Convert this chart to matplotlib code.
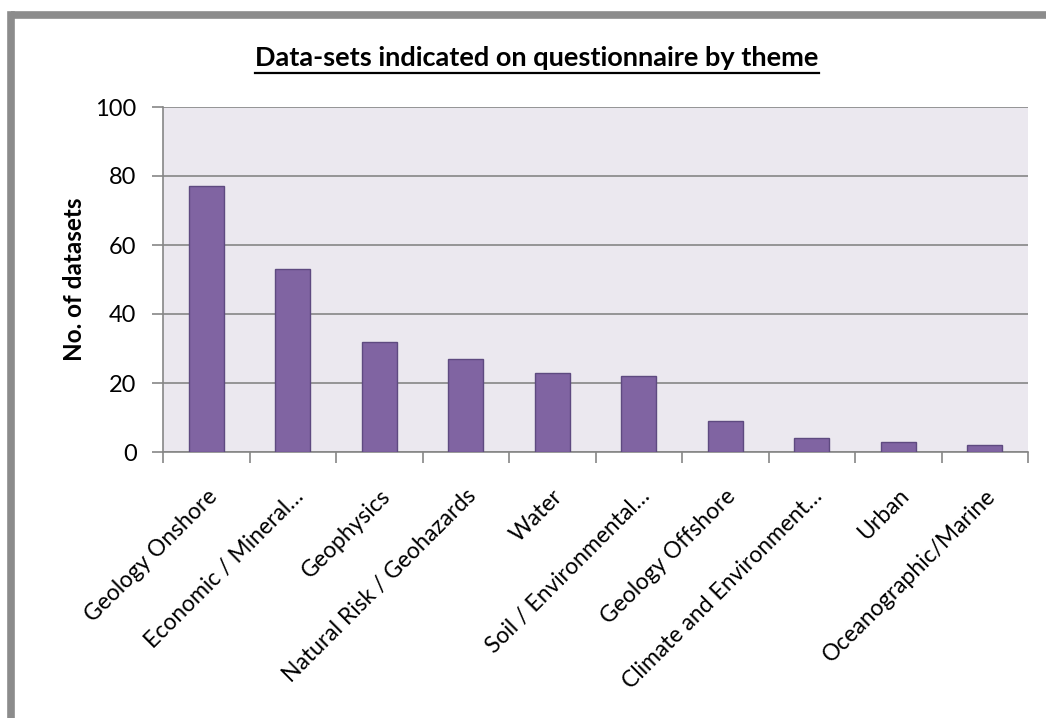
import matplotlib.pyplot as plt
from matplotlib.lines import Line2D
import numpy as np

categories = ["Geology Onshore", "Economic / Mineral\u2026", "Geophysics",
              "Natural Risk / Geohazards", "Water", "Soil / Environmental\u2026",
              "Geology Offshore", "Climate and Environment\u2026", "Urban",
              "Oceanographic/Marine"]
counts = [77, 53, 32, 27, 23, 22, 9, 4, 3, 2]
y_ticks = [0, 20, 40, 60, 80, 100]

plt.rcParams['font.family'] = ['Lato', 'DejaVu Sans']

fig = plt.figure(figsize=(10.46, 7.18), dpi=100)
ax = fig.add_axes([163 / 1046, 1 - 452 / 718, 865 / 1046, 345 / 718])
ax.set_facecolor('#EBE8EF')

x = np.arange(len(categories))
ax.bar(x, counts, width=0.4, color='#8064A2', edgecolor='#5E4A80', linewidth=1.0, zorder=3)

ax.set_xlim(-0.5, len(categories) - 0.5)
ax.set_ylim(0, 100)
ax.set_yticks(y_ticks)
ax.set_yticklabels([str(v) for v in y_ticks], fontsize=17)
ax.yaxis.grid(True, color='#868686', linewidth=1.2, zorder=1)
ax.tick_params(axis='y', length=8, width=1.2, color='#868686', pad=11)

# x ticks sit between categories, labels centred under bars
ax.set_xticks(np.arange(-0.5, len(categories)), minor=False)
ax.set_xticklabels([])
ax.set_xticks(x, minor=True)
ax.set_xticklabels(categories, minor=True, rotation=45, ha='right',
                   rotation_mode='anchor', fontsize=16.5)
ax.tick_params(axis='x', which='major', length=8, width=1.2, color='#868686')
ax.tick_params(axis='x', which='minor', length=0, pad=24)

for side in ['top', 'right']:
    ax.spines[side].set_visible(False)
for side in ['left', 'bottom']:
    ax.spines[side].set_color('#868686')
    ax.spines[side].set_linewidth(1.2)

ax.set_ylabel("No. of datasets", fontsize=17.5, fontweight='bold', labelpad=7)
title = fig.text(537 / 1046, 1 - 58 / 718, "Data-sets indicated on questionnaire by theme",
                 ha='center', va='center', fontsize=19.5, fontweight='bold')

# underline the title to its drawn width
renderer = fig.canvas.get_renderer()
bb = title.get_window_extent(renderer=renderer).transformed(fig.transFigure.inverted())
fig.add_artist(Line2D([bb.x0, bb.x1], [1 - 73 / 718, 1 - 73 / 718],
                      color='black', linewidth=1.6))

# chart frame (only top and left edges visible in the crop)
fig.add_artist(Line2D([11 / 1046, 1.0], [1 - 15 / 718, 1 - 15 / 718],
                      color='#8C8C8C', linewidth=5.5, solid_capstyle='butt'))
fig.add_artist(Line2D([11 / 1046, 11 / 1046], [0, 1 - 15 / 718],
                      color='#8C8C8C', linewidth=5.5, solid_capstyle='projecting'))

fig.savefig('out.png', dpi=100)
